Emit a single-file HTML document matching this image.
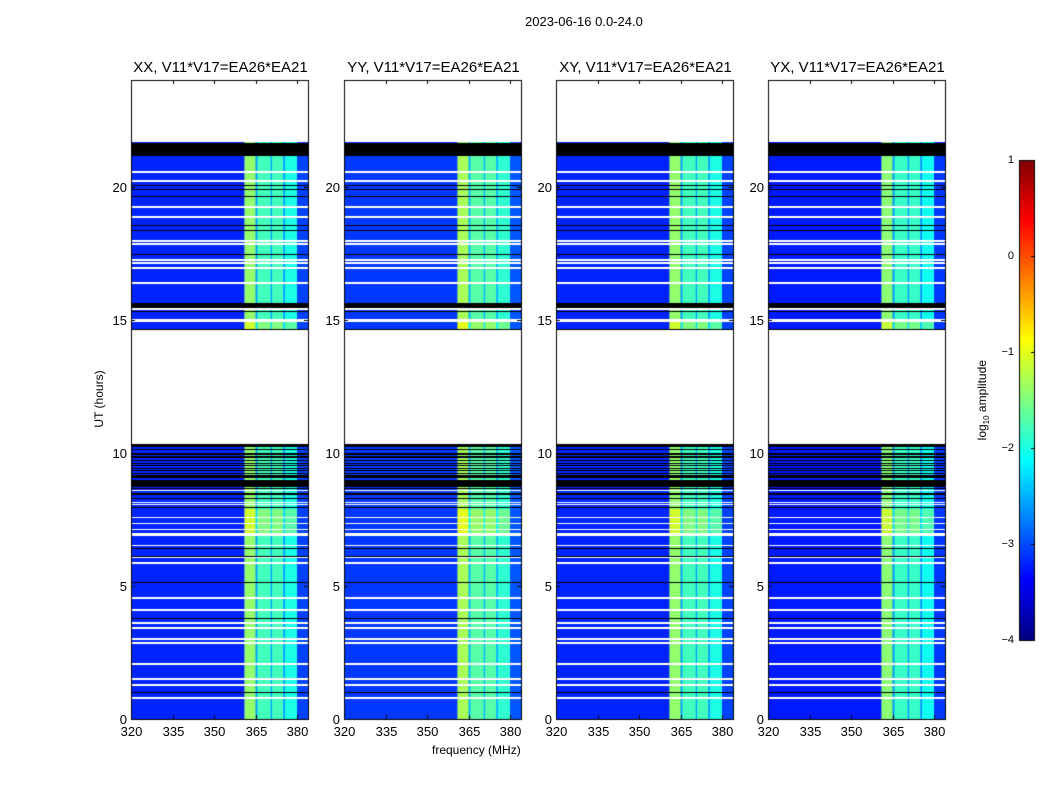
<!DOCTYPE html>
<html><head><meta charset="utf-8">
<style>
body{margin:0;background:#fff;width:1050px;height:800px;position:relative;overflow:hidden;font-family:"Liberation Sans",sans-serif;}
.t{position:absolute;white-space:nowrap;color:#000;}
canvas{position:absolute;}
</style></head>
<body>
<div class="t" style="left:525px;top:14px;font-size:13px;">2023-06-16 0.0-24.0</div>
<div class="t" style="left:432px;top:743px;font-size:12px;">frequency (MHz)</div>
<div class="t" style="left:54px;top:392px;font-size:12px;transform:rotate(-90deg);transform-origin:center;width:90px;text-align:center;">UT (hours)</div>
<div class="t" style="left:928px;top:392px;font-size:12px;transform:rotate(-90deg);width:110px;text-align:center;">log<sub style="font-size:8px">10</sub> amplitude</div>
<canvas id="cv" width="1050" height="800" style="left:0;top:0"></canvas>
<div id="lab"></div>
<script>
// ---- data ----
const panelTitles = ["XX, V11*V17=EA26*EA21","YY, V11*V17=EA26*EA21","XY, V11*V17=EA26*EA21","YX, V11*V17=EA26*EA21"];
const panelOffset = [0, 0.1, 0.0, -0.05];
// frequency segments [fStart, fEnd, log10 amplitude]
const freqSegments = [[320,361,-3.2],[361,365,-1.4],[365,365.7,-2.6],[365.7,370.5,-1.8],[370.5,371,-2.6],[371,375,-1.8],[375,375.7,-2.6],[375.7,380,-2.0],[380,384.5,-3.05]];
// time masks [hStart, hEnd]
const whiteIntervals = [[21.66,24],[20.51,20.57],[20.17,20.23],[19.20,19.26],[18.82,18.88],[17.92,17.98],[17.81,17.87],[17.21,17.27],[17.10,17.16],[16.91,16.97],[16.35,16.41],[15.36,15.44],[14.92,15.03],[10.31,14.62],[8.55,8.61],[8.10,8.16],[8.03,8.09],[7.54,7.60],[7.32,7.38],[7.09,7.15],[6.86,6.97],[6.49,6.55],[6.04,6.10],[5.82,5.88],[4.51,4.57],[4.06,4.12],[3.57,3.63],[3.38,3.44],[2.97,3.03],[2.82,2.88],[2.03,2.09],[1.45,1.55],[1.24,1.30],[0.76,0.82]];
const blackIntervals = [[21.14,21.62],[20.03,20.07],[19.85,19.89],[19.62,19.66],[18.50,18.54],[18.31,18.35],[17.41,17.45],[15.44,15.63],[15.30,15.34],[14.62,14.66],[10.22,10.31],[10.10,10.14],[9.92,10.00],[9.82,9.86],[9.70,9.74],[9.58,9.62],[9.49,9.53],[9.40,9.44],[9.30,9.34],[9.20,9.24],[9.05,9.15],[8.70,8.96],[8.62,8.66],[8.40,8.47],[8.26,8.30],[7.92,7.97],[6.39,6.43],[6.09,6.13],[5.11,5.15],[3.77,3.81],[0.99,1.03]];
// band boosts [hStart,hEnd,delta]
const bandBoost = [[7.0,7.9,0.3],[14.62,15.0,0.3]];
const xTicks = [320,335,350,365,380];
const yTicks = [0,5,10,15,20];
const cbTicks = [1,0,-1,-2,-3,-4];
// ---- layout ----
const panelX=[131,344,556,768], PW=177, PT=80, PB=719;
const fx=(f,i)=>panelX[i]+(f-320)*(297-131)/60;
const hy=h=>PB-h*(PB-PT)/24;
function jet(v){let x=Math.max(0,Math.min(1,(v+4)/5));const c=t=>Math.round(255*Math.max(0,Math.min(1,1.5-Math.abs(t))));return `rgb(${c(4*x-3)},${c(4*x-2)},${c(4*x-1)})`;}
const cv=document.getElementById('cv'),ctx=cv.getContext('2d');
const lab=document.getElementById('lab');
function text(s,x,y,size,anchor,name){const d=document.createElement('div');d.className='t';d.textContent=s;d.style.fontSize=size+'px';d.style.top=y+'px';d.style.left=x+'px';if(anchor==='c')d.style.transform='translateX(-50%)';if(anchor==='r')d.style.transform='translateX(-100%)';


lab.appendChild(d);}
for(let i=0;i<4;i++){
  const x0=panelX[i];
  for(let y=PT;y<PB;y++){
    const h=(PB-y-0.5)*24/(PB-PT);
    let type='d';
    for(const w of whiteIntervals) if(h>=w[0]&&h<w[1]) type='w';
    for(const b of blackIntervals) if(h>=b[0]&&h<b[1]) type='k';
    if(type==='w'){ctx.fillStyle='#fff';ctx.fillRect(x0,y,PW,1);continue;}
    if(type==='k'){ctx.fillStyle='#000';ctx.fillRect(x0,y,PW,1);continue;}
    let boost=0;for(const b of bandBoost) if(h>=b[0]&&h<b[1]) boost=b[2];
    for(const s of freqSegments){
      const a=fx(s[0],i),b=Math.min(fx(s[1],i),x0+PW);
      let v=s[2]+panelOffset[i]+(s[2]>-2.7?boost:0);
      ctx.fillStyle=jet(v);ctx.fillRect(a,y,b-a+0.5,1);
    }
  }
  ctx.strokeStyle='#000';ctx.lineWidth=1;ctx.strokeRect(x0+0.5,PT+0.5,PW,PB-PT);
  for(const t of xTicks){const X=Math.round(fx(t,i))+0.5;ctx.beginPath();ctx.moveTo(X,PB);ctx.lineTo(X,PB-4);ctx.moveTo(X,PT);ctx.lineTo(X,PT+4);ctx.stroke();
    text(String(t),X,724,13,'c','x-tick-label');}
  for(const t of yTicks){const Y=Math.round(hy(t))+0.5;ctx.beginPath();ctx.moveTo(x0,Y);ctx.lineTo(x0+4,Y);ctx.moveTo(x0+PW,Y);ctx.lineTo(x0+PW-4,Y);ctx.stroke();
    text(String(t),x0-4,Y-8,13,'r','y-tick-label');}
  text(panelTitles[i],x0+PW/2+1,59,15,'c','panel-title');
}
const CX=1019,CW=15,CT=160,CB=640;
for(let y=CT;y<CB;y++){ctx.fillStyle=jet(1-(y-CT+0.5)*5/(CB-CT));ctx.fillRect(CX,y,CW,1);}
ctx.strokeRect(CX+0.5,CT+0.5,CW,CB-CT);
for(const t of cbTicks){const Y=Math.round(CB-(t+4)*(CB-CT)/5)+0.5;ctx.beginPath();ctx.moveTo(CX+CW-3,Y);ctx.lineTo(CX+CW,Y);ctx.stroke();
  text(t<0?'\u2212'+(-t):String(t),CX-5,Y-7,11,'r','colorbar-tick-label');}
</script>
</body></html>
